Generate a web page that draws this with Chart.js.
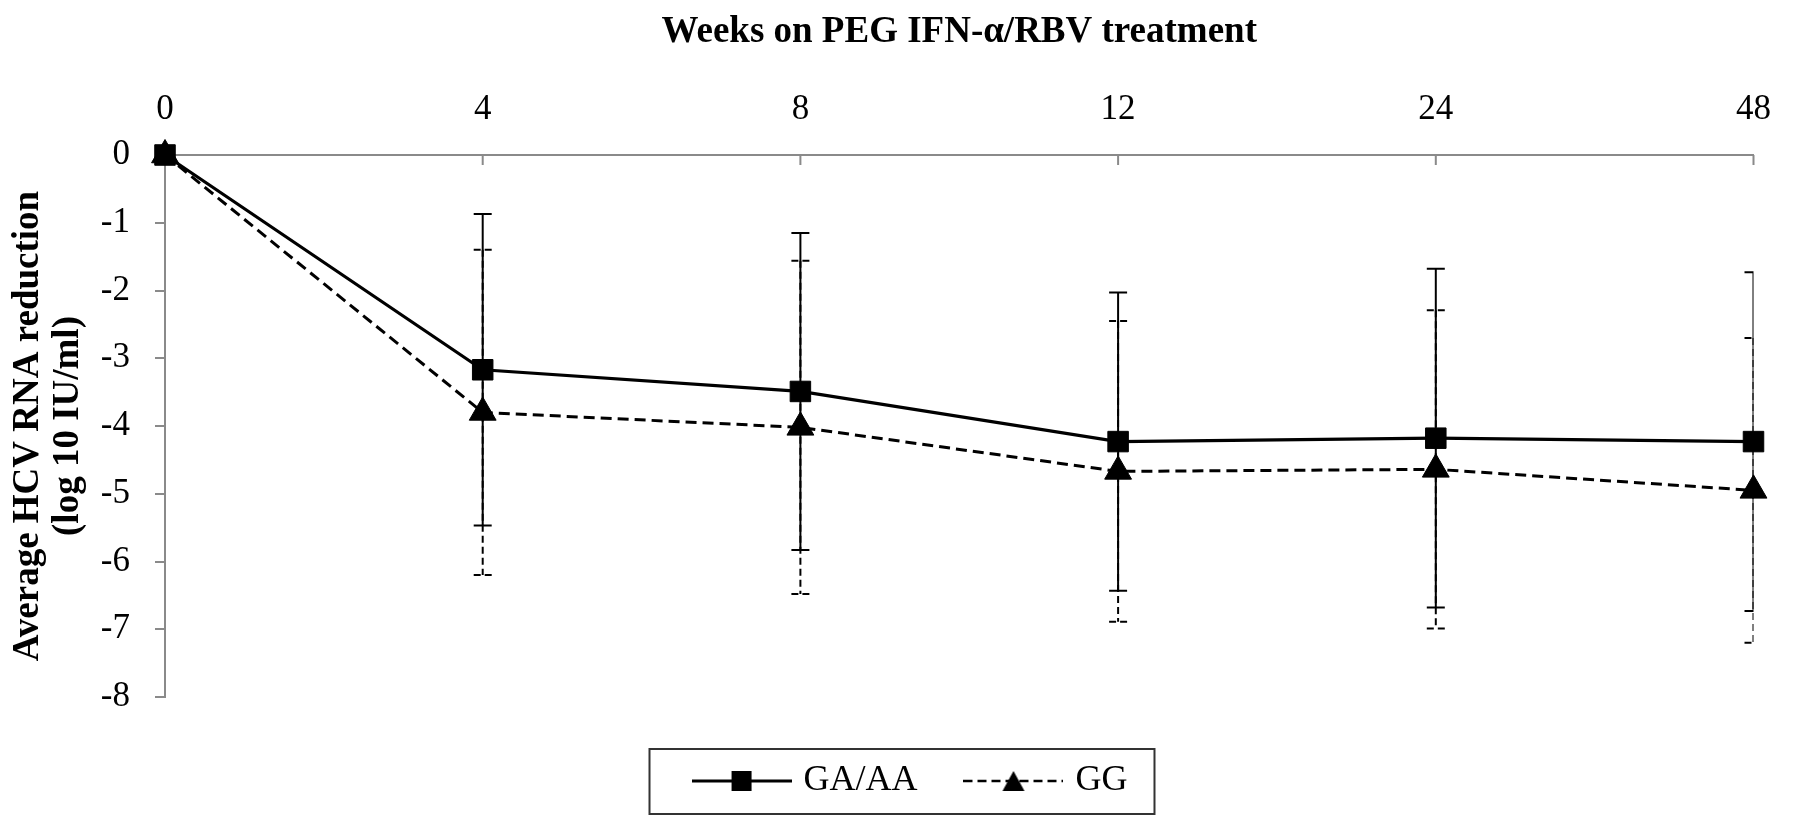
<!DOCTYPE html>
<html>
<head>
<meta charset="utf-8">
<script src="https://cdn.jsdelivr.net/npm/chart.js@4.4.1/dist/chart.umd.min.js"></script>
<style>
  html, body { margin: 0; padding: 0; background: #fff; }
</style>
</head>
<body>
<canvas id="myChart" width="1795" height="830"></canvas>
<script>
const weeks = ['0', '4', '8', '12', '24', '48'];
const gaMean = [0, -3.17, -3.49, -4.23, -4.18, -4.23];
const gaSd = [0, 2.30, 2.34, 2.20, 2.50, 2.50];
const ggMean = [0, -3.80, -4.02, -4.67, -4.64, -4.95];
const ggSd = [0, 2.40, 2.46, 2.22, 2.35, 2.25];

const serif = "'Liberation Serif', 'Times New Roman', serif";
const axisGrey = '#8a8a8a';

Chart.defaults.font.family = serif;
Chart.defaults.color = '#000';

// little line + marker pictures for the legend
function legendSample(dashed, marker) {
  const c = document.createElement('canvas');
  c.width = 100;
  c.height = 30;
  const g = c.getContext('2d');
  g.strokeStyle = '#000';
  g.lineWidth = dashed ? 2.5 : 3;
  if (dashed) g.setLineDash([9, 5]);
  g.beginPath();
  g.moveTo(0, 15);
  g.lineTo(100, 15);
  g.stroke();
  g.setLineDash([]);
  g.fillStyle = '#000';
  g.beginPath();
  if (marker === 'rect') {
    g.rect(40, 5, 20, 20);
  } else {
    g.moveTo(50, 5);
    g.lineTo(61, 25);
    g.lineTo(39, 25);
    g.closePath();
  }
  g.fill();
  return c;
}
const legendPics = [legendSample(false, 'rect'), legendSample(true, 'triangle')];

const errorBars = {
  id: 'errorBars',
  afterLayout(chart) {
    chart.legend.left += 32;
    chart.legend.right += 32;
  },
  beforeDatasetsDraw(chart) {
    const {ctx, chartArea, scales: {x, y}} = chart;

    // category ticks hang down from the top axis
    ctx.save();
    ctx.strokeStyle = axisGrey;
    ctx.lineWidth = 2;
    ctx.beginPath();
    x.ticks.forEach((t, i) => {
      const px = x.getPixelForTick(i);
      ctx.moveTo(px, x.bottom);
      ctx.lineTo(px, x.bottom + 10);
    });
    ctx.stroke();
    ctx.restore();

    ctx.save();
    ctx.beginPath();
    ctx.rect(chartArea.left, 0, chartArea.width, chart.height);
    ctx.clip();
    ctx.strokeStyle = '#000';
    ctx.lineWidth = 2;
    [[ggMean, ggSd, [7, 4]], [gaMean, gaSd, []]].forEach(([mean, sd, dash]) => {
      ctx.setLineDash(dash);
      mean.forEach((m, i) => {
        if (!sd[i]) return;
        const px = x.getPixelForValue(i);
        const top = y.getPixelForValue(m + sd[i]);
        const bot = y.getPixelForValue(m - sd[i]);
        ctx.beginPath();
        ctx.moveTo(px, top);
        ctx.lineTo(px, bot);
        ctx.moveTo(px - 9, top);
        ctx.lineTo(px + 9, top);
        ctx.moveTo(px - 9, bot);
        ctx.lineTo(px + 9, bot);
        ctx.stroke();
      });
    });
    ctx.restore();
  },
  afterDraw(chart) {
    const {ctx} = chart;
    const boxes = chart.legend.legendHitBoxes;
    if (!boxes || !boxes.length) return;
    const left = Math.min(...boxes.map(b => b.left)) - 48;
    const right = Math.max(...boxes.map(b => b.left + b.width)) + 27;
    const cy = boxes[0].top + boxes[0].height / 2;
    ctx.save();
    ctx.strokeStyle = '#333';
    ctx.lineWidth = 2;
    ctx.strokeRect(left, cy - 32, right - left, 65);
    ctx.restore();
  }
};

const ctx = document.getElementById('myChart');

const myChart = new Chart(ctx, {
  type: 'line',
  data: {
    labels: weeks,
    datasets: [
      {
        label: 'GA/AA',
        data: gaMean,
        borderColor: '#000',
        backgroundColor: '#000',
        borderWidth: 3.2,
        pointStyle: 'rect',
        pointRadius: 14.5,
        pointBorderWidth: 1,
        clip: false
      },
      {
        label: 'GG',
        data: ggMean,
        borderColor: '#000',
        backgroundColor: '#000',
        borderWidth: 3,
        borderDash: [11, 6],
        pointStyle: 'triangle',
        pointRadius: 15.5,
        pointBorderWidth: 1,
        clip: false
      }
    ]
  },
  options: {
    responsive: false,
    animation: false,
    events: [],
    layout: {
      padding: {left: 0, right: 34, top: 0, bottom: 21}
    },
    plugins: {
      tooltip: {enabled: false},
      legend: {
        position: 'bottom',
        title: {display: true, text: '', font: {size: 10, lineHeight: 1}, padding: {top: 4, bottom: 0}},
        labels: {
          usePointStyle: true,
          pointStyleWidth: 88,
          padding: 52,
          color: '#000',
          font: {family: serif, size: 36},
          generateLabels: chart => chart.data.datasets.map((ds, i) => ({
            text: ds.label,
            pointStyle: legendPics[i],
            fillStyle: '#000',
            strokeStyle: '#000',
            lineWidth: 0,
            hidden: false,
            datasetIndex: i,
            fontColor: '#000'
          }))
        }
      }
    },
    scales: {
      x: {
        type: 'category',
        position: 'top',
        offset: false,
        grid: {display: true, drawOnChartArea: false, drawTicks: false},
        border: {display: true, color: axisGrey, width: 2},
        ticks: {color: '#000', font: {family: serif, size: 35}, padding: 24, maxRotation: 0, autoSkip: false},
        title: {
          display: true,
          text: 'Weeks on PEG IFN-α/RBV treatment',
          color: '#000',
          font: {family: serif, size: 37, weight: 'bold', lineHeight: 1},
          padding: {top: 14, bottom: 0}
        },
        afterFit(scale) { scale.height = 155; }
      },
      y: {
        min: -8,
        max: 0,
        ticks: {stepSize: 1, color: '#000', font: {family: serif, size: 35}, padding: 25},
        grid: {drawOnChartArea: false, drawTicks: true, tickLength: 10, color: axisGrey, lineWidth: 2},
        border: {color: axisGrey, width: 2},
        title: {
          display: true,
          text: ['Average HCV RNA reduction', '(log 10 IU/ml)'],
          color: '#000',
          font: {family: serif, size: 37, weight: 'bold', lineHeight: 1.08},
          padding: {top: 8, bottom: 0}
        },
        afterFit(scale) { scale.width = 165; }
      }
    }
  },
  plugins: [errorBars]
});
</script>
</body>
</html>
